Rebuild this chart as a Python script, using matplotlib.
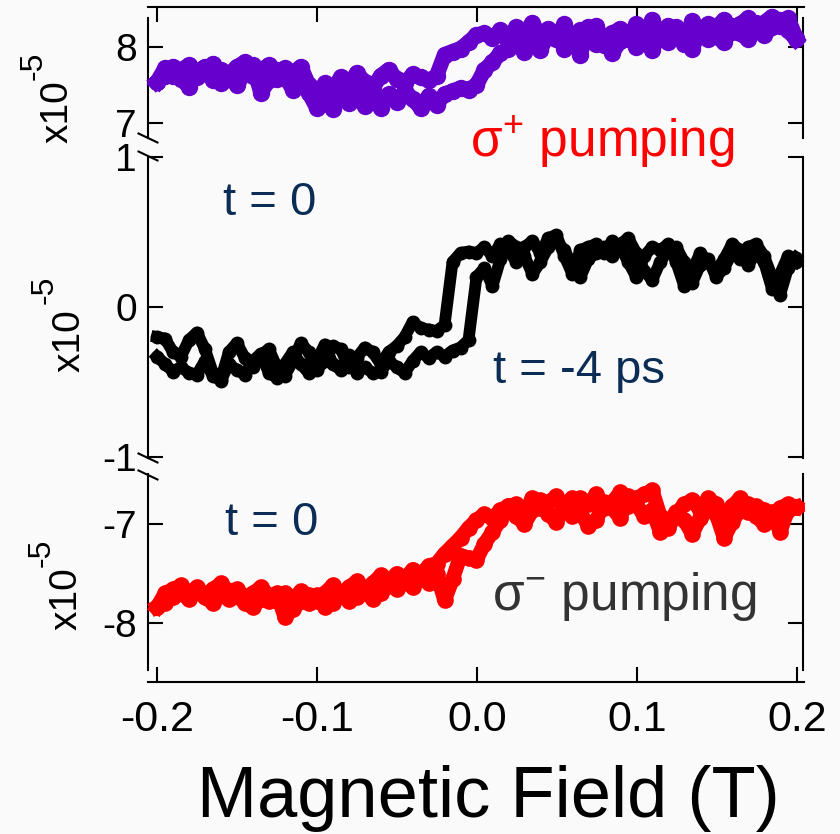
import numpy as np
import matplotlib
matplotlib.use("Agg")
import matplotlib.pyplot as plt
from matplotlib.lines import Line2D

plt.rcParams['font.family'] = ['Liberation Sans', 'DejaVu Sans']
plt.rcParams['mathtext.fontset'] = 'custom'
plt.rcParams['mathtext.rm'] = 'Liberation Sans'
plt.rcParams['mathtext.default'] = 'regular'
plt.rcParams['axes.unicode_minus'] = False

# ---------------------------------------------------------------- data
# magnetic-field sweep grid (T)
field = np.round(np.arange(-0.200, 0.2001, 0.005), 3)

# sigma+ pumping, t = 0   (units of 1e-5)
sp_down = [7.54, 7.72, 7.62, 7.70, 7.76, 7.60, 7.66, 7.78, 7.52, 7.64,
           7.74, 7.80, 7.62, 7.70, 7.76, 7.58, 7.72, 7.66, 7.74, 7.50,
           7.36, 7.52, 7.44, 7.60, 7.48, 7.66, 7.54, 7.46, 7.62, 7.70,
           7.58, 7.52, 7.64, 7.60, 7.56, 7.62, 7.90, 7.94, 7.98, 8.06,
           8.16, 8.18, 8.12, 8.22, 8.08, 8.26, 8.18, 8.32, 8.14, 8.24,
           8.10, 8.30, 8.06, 8.22, 8.14, 8.28, 8.02, 8.18, 8.24, 8.10,
           8.30, 8.16, 8.36, 8.12, 8.28, 8.20, 8.04, 8.34, 8.18, 8.10,
           8.26, 8.36, 8.20, 8.30, 8.38, 8.24, 8.32, 8.40, 8.28, 8.38,
           8.12]
sp_up = [7.54, 7.62, 7.74, 7.58, 7.48, 7.68, 7.74, 7.56, 7.70, 7.60,
         7.50, 7.66, 7.76, 7.40, 7.56, 7.70, 7.62, 7.44, 7.60, 7.40,
         7.20, 7.30, 7.18, 7.36, 7.26, 7.40, 7.22, 7.34, 7.20, 7.38,
         7.28, 7.42, 7.32, 7.20, 7.36, 7.24, 7.38, 7.42, 7.46, 7.44,
         7.50, 7.70, 7.80, 7.92, 7.98, 8.06, 7.94, 8.12, 7.96, 8.18,
         8.20, 7.98, 8.12, 7.90, 8.26, 8.04, 8.14, 7.92, 8.08, 8.20,
         8.00, 8.22, 7.96, 8.18, 8.06, 8.26, 8.14, 7.98, 8.22, 8.30,
         8.14, 8.06, 8.28, 8.18, 8.10, 8.32, 8.16, 8.26, 8.36, 8.22,
         8.10]

# t = -4 ps
neg_down = [-0.20, -0.21, -0.30, -0.33, -0.22, -0.17, -0.28, -0.44, -0.48, -0.30,
            -0.24, -0.34, -0.40, -0.32, -0.28, -0.40, -0.46, -0.36, -0.24, -0.30,
            -0.42, -0.36, -0.26, -0.28, -0.40, -0.34, -0.27, -0.30, -0.38, -0.30,
            -0.26, -0.20, -0.10, -0.14, -0.15, -0.16, -0.12, 0.30, 0.36, 0.37,
            0.36, 0.40, 0.34, 0.42, 0.38, 0.30, 0.40, 0.44, 0.36, 0.46,
            0.48, 0.34, 0.22, 0.38, 0.40, 0.42, 0.36, 0.44, 0.40, 0.30,
            0.20, 0.34, 0.40, 0.38, 0.42, 0.30, 0.14, 0.24, 0.36, 0.30,
            0.24, 0.32, 0.42, 0.38, 0.28, 0.36, 0.30, 0.12, 0.22, 0.34,
            0.30]
neg_up = [-0.33, -0.38, -0.43, -0.40, -0.44, -0.45, -0.36, -0.46, -0.49, -0.38,
          -0.42, -0.45, -0.36, -0.31, -0.44, -0.47, -0.38, -0.30, -0.38, -0.44,
          -0.36, -0.25, -0.38, -0.42, -0.32, -0.44, -0.40, -0.44, -0.43, -0.36,
          -0.40, -0.44, -0.36, -0.30, -0.34, -0.30, -0.33, -0.29, -0.27, -0.22,
          0.20, 0.26, 0.14, 0.32, 0.44, 0.40, 0.34, 0.22, 0.30, 0.40,
          0.44, 0.38, 0.28, 0.20, 0.32, 0.36, 0.40, 0.34, 0.42, 0.46,
          0.36, 0.24, 0.18, 0.30, 0.38, 0.40, 0.30, 0.16, 0.28, 0.32,
          0.20, 0.26, 0.36, 0.32, 0.40, 0.42, 0.34, 0.20, 0.08, 0.26,
          0.33]

# sigma- pumping, t = 0
sm_down = [-7.84, -7.70, -7.66, -7.62, -7.70, -7.64, -7.72, -7.66, -7.60, -7.68,
           -7.66, -7.74, -7.70, -7.64, -7.72, -7.78, -7.70, -7.76, -7.68, -7.72,
           -7.78, -7.70, -7.62, -7.72, -7.64, -7.58, -7.66, -7.60, -7.52, -7.58,
           -7.50, -7.56, -7.46, -7.52, -7.42, -7.40, -7.30, -7.22, -7.14, -7.04,
           -6.96, -6.90, -6.94, -6.86, -6.82, -6.80, -6.88, -6.74, -6.84, -6.78,
           -6.72, -6.86, -6.92, -6.74, -6.80, -6.70, -6.84, -6.78, -6.68, -6.82,
           -6.74, -6.70, -6.66, -6.92, -7.04, -6.90, -6.80, -6.76, -6.86, -6.74,
           -6.80, -6.96, -6.82, -6.74, -6.88, -6.82, -6.86, -6.92, -6.84, -6.80,
           -6.83]
sm_up = [-7.84, -7.80, -7.74, -7.70, -7.76, -7.68, -7.74, -7.80, -7.72, -7.76,
         -7.72, -7.80, -7.84, -7.76, -7.78, -7.70, -7.94, -7.86, -7.78, -7.80,
         -7.72, -7.84, -7.80, -7.70, -7.78, -7.74, -7.68, -7.76, -7.70, -7.62,
         -7.66, -7.58, -7.64, -7.54, -7.60, -7.50, -7.77, -7.56, -7.32, -7.34,
         -7.36, -7.20, -7.08, -6.96, -6.82, -6.92, -7.00, -6.86, -6.76, -6.90,
         -6.98, -6.80, -6.74, -6.88, -7.02, -6.96, -6.78, -6.84, -6.94, -6.72,
         -6.80, -6.92, -6.86, -7.08, -6.98, -6.88, -6.96, -7.10, -6.94, -6.84,
         -6.90, -7.14, -6.98, -6.86, -6.80, -6.92, -7.00, -6.88, -7.08, -6.86,
         -6.83]

x_ticks = [-0.2, -0.1, 0.0, 0.1, 0.2]
x_ticklabels = ["-0.2", "-0.1", "0.0", "0.1", "0.2"]
top_yticks = [7, 8]
mid_yticks = [-1, 0, 1]
bot_yticks = [-8, -7]

# ---------------------------------------------------------------- layout
W, H = 840, 834
BG = '#fafafa'
fig = plt.figure(figsize=(W / 100, H / 100), dpi=100, facecolor=BG)


def box(x0, y0, x1, y1):
    """pixel box measured from the top-left corner -> figure fraction rect"""
    return [x0 / W, 1 - y1 / H, (x1 - x0) / W, (y1 - y0) / H]


XL, XR = 148, 804
xlim = (-0.2 - 9 / 1600, 0.2 + 7 / 1600)
LW = 1.5
TICK_LEN = 11
FS_TICK = 28

# frame carrying the top and bottom field axes
frame = fig.add_axes(box(XL, 7, XR, 682))
frame.patch.set_visible(False)
frame.set_xlim(xlim)
frame.set_ylim(0, 1)
for side in ('left', 'right'):
    frame.spines[side].set_visible(False)
for side in ('top', 'bottom'):
    frame.spines[side].set_linewidth(LW)
frame.set_yticks([])
frame.set_xticks(x_ticks)
frame.set_xticklabels(x_ticklabels)
frame.tick_params(axis='x', direction='in', top=True, bottom=True,
                  labeltop=False, length=TICK_LEN, width=LW,
                  labelsize=31, pad=13)


def panel(y0, y1, ylim, yticks):
    ax = fig.add_axes(box(XL, y0, XR - 1, y1))
    ax.patch.set_visible(False)
    ax.set_xlim(xlim)
    ax.set_ylim(ylim)
    for side in ('top', 'bottom'):
        ax.spines[side].set_visible(False)
    for side in ('left', 'right'):
        ax.spines[side].set_linewidth(LW)
    ax.set_xticks([])
    ax.set_yticks(yticks)
    ax.set_yticklabels([str(t) for t in yticks])
    ax.tick_params(axis='y', direction='in', left=True, right=True,
                   labelright=False, length=TICK_LEN, width=LW,
                   labelsize=FS_TICK, pad=8)
    return ax


ax_top = panel(18, 138, (8 - (138 - 47) / 76, 8 + (47 - 18) / 76), top_yticks)
ax_mid = panel(157, 458, (-1 - 1 / 150, 1.0), mid_yticks)
ax_bot = panel(474, 670, (-7 - (670 - 524) / 99, -7 + (524 - 474) / 99), bot_yticks)

PURPLE = '#6600cc'
RED = '#ff0000'
NAVY = '#0b2c55'
GREY = '#333333'

for ys in (sp_down, sp_up):
    ax_top.plot(field, ys, '-o', color=PURPLE, ms=12.5, lw=11, mew=0,
                clip_on=False, zorder=3)
for ys in (neg_down, neg_up):
    ax_mid.plot(field, ys, '-o', color='black', ms=10, lw=8.5, mew=0,
                clip_on=False, zorder=3)
for ys in (sm_down, sm_up):
    ax_bot.plot(field, ys, '-o', color=RED, ms=12, lw=10.5, mew=0,
                clip_on=False, zorder=3)

# axis-break slashes on the left axis
for yc in (138, 156, 458, 475):
    fig.add_artist(Line2D([(XL - 9.5) / W, (XL + 9.5) / W],
                          [1 - (yc - 4.5) / H, 1 - (yc + 4.5) / H],
                          color='black', lw=LW, transform=fig.transFigure))


def ptext(px, py, s, **kw):
    return fig.text(px / W, 1 - py / H, s, **kw)


# scale-factor labels, rotated
for (bx, by), (sx, sy) in (((68, 143), (42, 80)),
                           ((80, 372), (53, 304)),
                           ((77, 630), (50, 567))):
    ptext(bx, by, "x10", rotation=90, rotation_mode='anchor',
          ha='left', va='baseline', fontsize=FS_TICK)
    ptext(sx, sy, "-5", rotation=90, rotation_mode='anchor',
          ha='left', va='baseline', fontsize=23)

# annotations
ptext(470, 157, "σ$^{+}$ pumping", color=RED, fontsize=37,
      ha='left', va='baseline')
ptext(223, 215, "t = 0", color=NAVY, fontsize=34, ha='left', va='baseline')
ptext(493, 383, "t = -4 ps", color=NAVY, fontsize=34, ha='left', va='baseline')
ptext(225, 535, "t = 0", color=NAVY, fontsize=34, ha='left', va='baseline')
ptext(492, 610, "σ$^{-}$ pumping", color=GREY, fontsize=37,
      ha='left', va='baseline')

ptext(488, 817, "Magnetic Field (T)", fontsize=52, ha='center', va='baseline')

fig.savefig("out.png", dpi=100, facecolor=BG)
